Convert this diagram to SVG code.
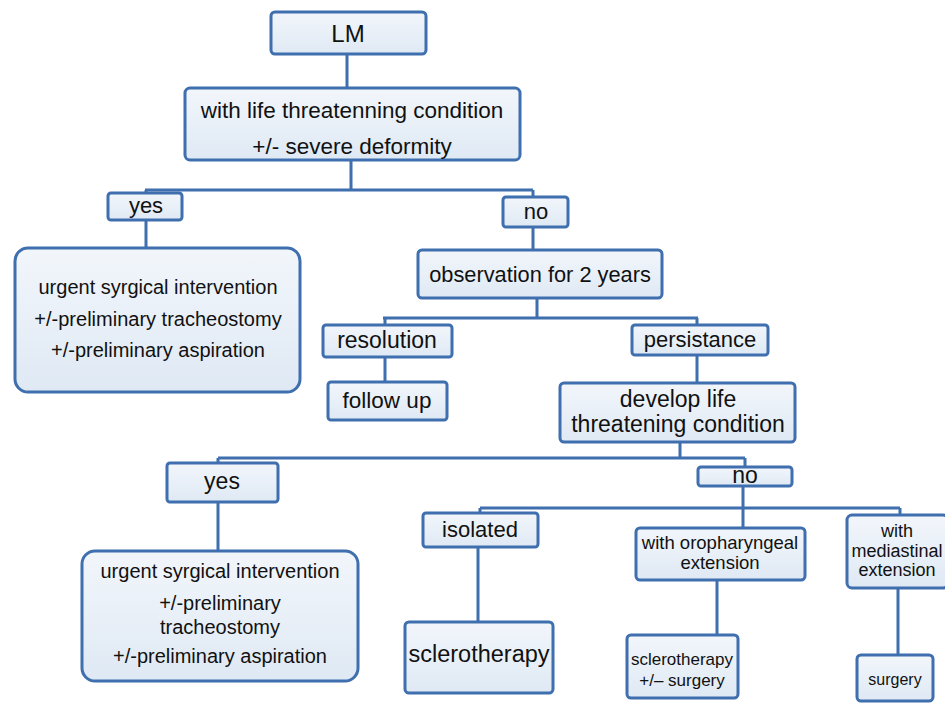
<svg xmlns="http://www.w3.org/2000/svg" width="945" height="703" viewBox="0 0 945 703">
<defs>
<linearGradient id="fill" x1="0" y1="0" x2="0" y2="1">
<stop offset="0" stop-color="#f2f6fb"/>
<stop offset="1" stop-color="#dfe9f4"/>
</linearGradient>
</defs>
<style>
.box{fill:url(#fill);stroke:#3f6fae;stroke-width:3}
.ln{fill:none;stroke:#3f6fae;stroke-width:3}
text{font-family:"Liberation Sans",Arial,sans-serif;fill:#111;text-anchor:middle}
</style>
<rect width="945" height="703" fill="#ffffff"/>
<g id="connectors" class="ln">
<path d="M347,54 V88"/>
<path d="M351,160 V190 M145,190 H533 M146,190 V193 M533,190 V197"/>
<path d="M146,220 V248"/>
<path d="M533,227 V250"/>
<path d="M537,298 V318 M383,318 H698 M385,318 V325 M697,318 V325"/>
<path d="M385,357 V382"/>
<path d="M697,355 V383"/>
<path d="M680,442 V458 M218,458 H745 M218,458 V463 M745,458 V467"/>
<path d="M218,502 V551"/>
<path d="M743,486 V508 M480,508 H900 M480,508 V513 M743,508 V528 M900,508 V515"/>
<path d="M478,547 V622"/>
<path d="M717,580 V635"/>
<path d="M898,588 V655"/>
</g>
<g id="lm"><rect class="box" x="271" y="12" width="155" height="42" rx="4"/><text x="348" y="42" font-size="24">LM</text></g>
<g id="cond"><rect class="box" x="185" y="88" width="335" height="72" rx="5"/><text x="352" y="118" font-size="22.5">with life threatenning condition</text><text x="352" y="154" font-size="22.5">+/- severe deformity</text></g>
<g id="yes1"><rect class="box" x="108" y="193" width="74" height="27" rx="3"/><text x="146" y="213" font-size="22">yes</text></g>
<g id="urgent1"><rect class="box" x="15" y="248" width="285" height="144" rx="13"/><text x="158" y="294" font-size="20">urgent syrgical intervention</text><text x="158" y="326" font-size="20">+/-preliminary tracheostomy</text><text x="158" y="357" font-size="20">+/-preliminary aspiration</text></g>
<g id="no1"><rect class="box" x="503" y="197" width="65" height="30" rx="3"/><text x="536" y="219" font-size="22">no</text></g>
<g id="obs"><rect class="box" x="418" y="250" width="244" height="48" rx="4"/><text x="540" y="282" font-size="21.8">observation for 2 years</text></g>
<g id="resolution"><rect class="box" x="323" y="325" width="129" height="32" rx="3"/><text x="387" y="348" font-size="23">resolution</text></g>
<g id="persistance"><rect class="box" x="632" y="325" width="136" height="30" rx="3"/><text x="700" y="347" font-size="22">persistance</text></g>
<g id="followup"><rect class="box" x="328" y="382" width="119" height="38" rx="3"/><text x="387" y="408" font-size="22.5">follow up</text></g>
<g id="develop"><rect class="box" x="560" y="383" width="235" height="59" rx="4"/><text x="678" y="407" font-size="23">develop life</text><text x="678" y="432" font-size="23">threatening condition</text></g>
<g id="yes2"><rect class="box" x="167" y="463" width="111" height="39" rx="3"/><text x="222" y="489" font-size="23">yes</text></g>
<g id="urgent2"><rect class="box" x="82" y="551" width="276" height="130" rx="13"/><text x="220" y="578" font-size="20">urgent syrgical intervention</text><text x="220" y="610" font-size="20">+/-preliminary</text><text x="220" y="634" font-size="20">tracheostomy</text><text x="220" y="663" font-size="20">+/-preliminary aspiration</text></g>
<g id="no2"><rect class="box" x="698" y="467" width="94" height="19" rx="3"/><text x="745" y="483" font-size="23">no</text></g>
<g id="isolated"><rect class="box" x="423" y="513" width="115" height="34" rx="3"/><text x="480" y="537" font-size="22">isolated</text></g>
<g id="sclero"><rect class="box" x="405" y="622" width="148" height="71" rx="4"/><text x="479" y="662" font-size="23.5">sclerotherapy</text></g>
<g id="oro"><rect class="box" x="636" y="528" width="169" height="52" rx="4"/><text x="720" y="549" font-size="18.5">with oropharyngeal</text><text x="720" y="569" font-size="18.5">extension</text></g>
<g id="sclerosurg"><rect class="box" x="627" y="635" width="111" height="63" rx="4"/><text x="682" y="665" font-size="17">sclerotherapy</text><text x="682" y="686" font-size="17">+/– surgery</text></g>
<g id="med"><rect class="box" x="847" y="515" width="101" height="73" rx="5"/><text x="897" y="537" font-size="18">with</text><text x="897" y="557" font-size="18">mediastinal</text><text x="897" y="576" font-size="18">extension</text></g>
<g id="surgery"><rect class="box" x="857" y="655" width="76" height="46" rx="4"/><text x="895" y="685" font-size="16">surgery</text></g>
</svg>
